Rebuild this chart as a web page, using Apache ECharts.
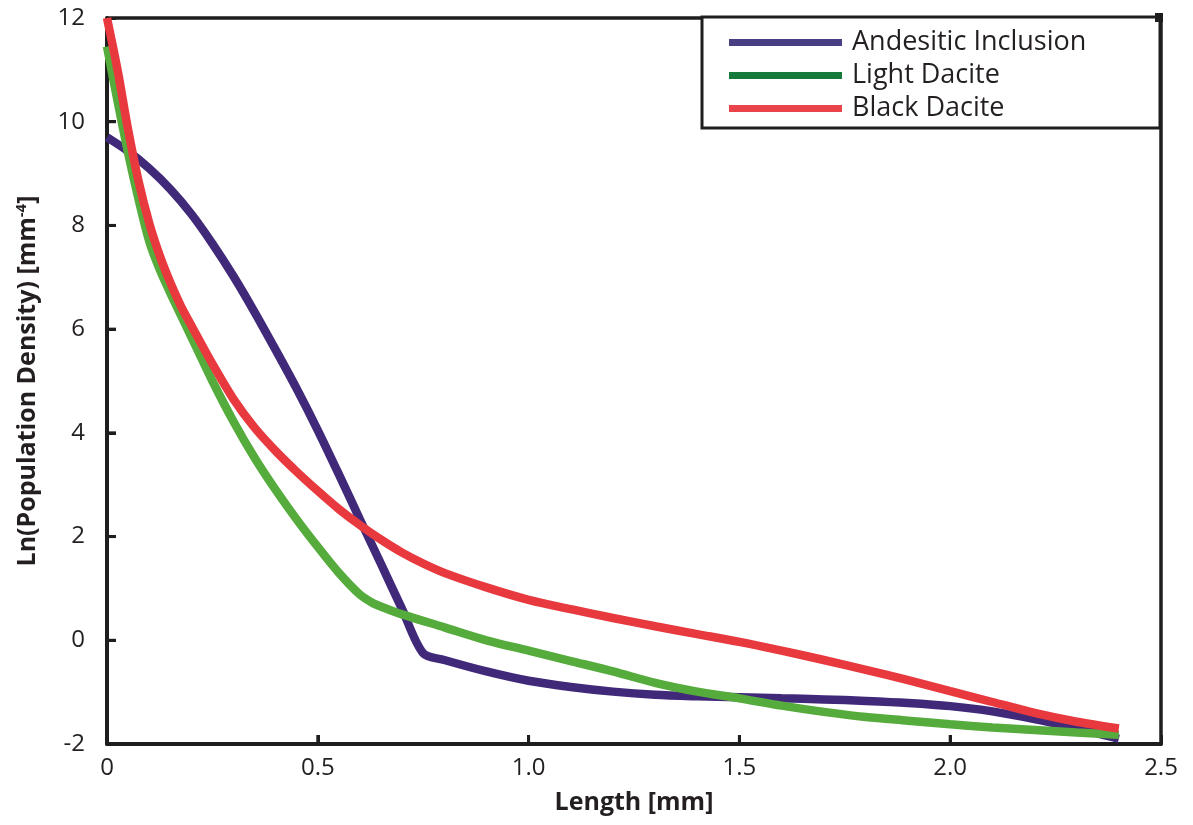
<!DOCTYPE html>
<html>
<head>
<meta charset="utf-8">
<script src="https://cdn.jsdelivr.net/npm/echarts@6/dist/echarts.min.js"></script>
<style>html,body{margin:0;padding:0;background:#fff;}#c{width:1193px;height:825px;}</style>
</head>
<body>
<div id="c"></div>
<script>
const seriesNames = ['Andesitic Inclusion', 'Light Dacite', 'Black Dacite'];

const andesiticX = [0, 0.05, 0.1, 0.15, 0.2, 0.25, 0.3, 0.35, 0.4, 0.45, 0.5, 0.55, 0.6, 0.65, 0.7, 0.75, 0.8, 0.9, 1.0, 1.1, 1.2, 1.3, 1.4, 1.5, 1.6, 1.7, 1.8, 1.9, 2.0, 2.1, 2.2, 2.3, 2.4];
const andesiticY = [9.7, 9.43, 9.1, 8.7, 8.22, 7.65, 7.02, 6.33, 5.6, 4.85, 4.05, 3.2, 2.33, 1.47, 0.6, -0.25, -0.38, -0.6, -0.78, -0.9, -0.99, -1.05, -1.08, -1.1, -1.12, -1.14, -1.17, -1.21, -1.27, -1.37, -1.52, -1.7, -1.9];

const lightX = [0, 0.025, 0.05, 0.075, 0.1, 0.125, 0.15, 0.2, 0.25, 0.3, 0.35, 0.4, 0.45, 0.5, 0.55, 0.6, 0.63, 0.65, 0.7, 0.8, 0.9, 1.0, 1.1, 1.2, 1.3, 1.4, 1.5, 1.6, 1.7, 1.8, 1.9, 2.0, 2.1, 2.2, 2.3, 2.4];
const lightY = [11.45, 10.4, 9.4, 8.5, 7.7, 7.15, 6.7, 5.85, 5.0, 4.22, 3.52, 2.9, 2.33, 1.8, 1.3, 0.88, 0.72, 0.65, 0.5, 0.25, 0.0, -0.2, -0.4, -0.6, -0.82, -0.99, -1.12, -1.26, -1.38, -1.48, -1.55, -1.62, -1.68, -1.73, -1.78, -1.82];

const blackX = [0, 0.025, 0.05, 0.075, 0.1, 0.125, 0.15, 0.175, 0.2, 0.25, 0.3, 0.35, 0.4, 0.45, 0.5, 0.55, 0.6, 0.65, 0.7, 0.75, 0.8, 0.9, 1.0, 1.1, 1.2, 1.3, 1.4, 1.5, 1.6, 1.7, 1.8, 1.9, 2.0, 2.1, 2.2, 2.3, 2.4];
const blackY = [12.0, 11.0, 9.85, 8.85, 8.05, 7.42, 6.9, 6.45, 6.07, 5.33, 4.65, 4.1, 3.65, 3.25, 2.88, 2.53, 2.22, 1.94, 1.69, 1.48, 1.3, 1.02, 0.78, 0.6, 0.43, 0.27, 0.12, -0.03, -0.2, -0.38, -0.57, -0.77, -0.98, -1.19, -1.4, -1.57, -1.7];

const xTicks = [0, 0.5, 1.0, 1.5, 2.0, 2.5];
const yTicks = [-2, 0, 2, 4, 6, 8, 10, 12];

const lineColors = ['#41297a', '#56ab3d', '#e8393f'];
const legendColors = ['#483e84', '#167a3c', '#e84449'];

function pairs(xs, ys) { return xs.map((x, i) => [x, ys[i]]); }

const chart = echarts.init(document.getElementById('c'), null, { renderer: 'canvas' });
const font = 'Open Sans';
const axisCol = '#1e1e1e';
const xMin = xTicks[0], xMax = xTicks[xTicks.length - 1];
const yMin = yTicks[0], yMax = yTicks[yTicks.length - 1];
const frameAxis = { show: true, onZero: false, lineStyle: { color: axisCol, width: 3.5 } };
const tickLen = 9;

const baseGraphic = [
  { id: 'legendBox', type: 'rect', z: 9, shape: { x: 702, y: 17, width: 458, height: 111 }, style: { fill: '#fff', stroke: axisCol, lineWidth: 3 } },
  { id: 'cornerMark', type: 'rect', z: 9, shape: { x: 1155, y: 13, width: 8, height: 9 }, style: { fill: axisCol } }
];

const option = {
  backgroundColor: '#ffffff',
  animation: false,
  grid: { left: 107, right: 32, top: 18, bottom: 81, show: false },
  xAxis: [{
    type: 'value', min: xMin, max: xMax, interval: 0.5, position: 'bottom',
    name: 'Length [mm]', nameLocation: 'middle', nameGap: 46,
    nameTextStyle: { fontFamily: font, fontSize: 25, fontWeight: 'bold', color: '#231f20' },
    axisLine: { show: true, onZero: false, lineStyle: { color: axisCol, width: 4 } },
    axisTick: { show: true, inside: true, length: tickLen, lineStyle: { color: axisCol, width: 3 } },
    splitLine: { show: false },
    axisLabel: { show: true, fontFamily: font, fontSize: 24, color: '#231f20', margin: 12,
      formatter: v => (xTicks.indexOf(v) >= 0 ? (v === 0 ? '0' : v.toFixed(1)) : '') }
  }, {
    type: 'value', min: xMin, max: xMax, interval: 0.5, position: 'top',
    axisLine: frameAxis, axisTick: { show: false }, axisLabel: { show: false }, splitLine: { show: false }
  }],
  yAxis: [{
    type: 'value', min: yMin, max: yMax, interval: 2, position: 'left',
    name: 'Ln(Population Density) [mm{sup|-4}]', nameLocation: 'middle', nameGap: 66, nameRotate: 90,
    nameTextStyle: { fontFamily: font, fontSize: 25, fontWeight: 'bold', color: '#231f20',
      rich: { sup: { fontFamily: font, fontSize: 15, fontWeight: 'bold', color: '#231f20', verticalAlign: 'top', padding: [0, 0, 12, 0] } } },
    axisLine: { show: true, onZero: false, lineStyle: { color: axisCol, width: 4 } },
    axisTick: { show: true, inside: true, length: tickLen, lineStyle: { color: axisCol, width: 3 } },
    splitLine: { show: false },
    axisLabel: { show: true, fontFamily: font, fontSize: 24, color: '#231f20', margin: 22,
      formatter: v => (yTicks.indexOf(v) >= 0 ? String(v) : '') }
  }, {
    type: 'value', min: yMin, max: yMax, interval: 2, position: 'right',
    axisLine: frameAxis, axisTick: { show: false }, axisLabel: { show: false }, splitLine: { show: false }
  }],
  legend: {
    left: 724, top: 24, orient: 'vertical', itemWidth: 113, itemHeight: 7, itemGap: 6, z: 10,
    icon: 'rect',
    textStyle: { fontFamily: font, fontSize: 27, lineHeight: 27, color: '#231f20', padding: [0, 0, 0, 5] },
    data: seriesNames.map((n, i) => ({ name: n, itemStyle: { color: legendColors[i] } }))
  },
  graphic: baseGraphic,
  series: [
    { name: seriesNames[0], type: 'line', data: pairs(andesiticX, andesiticY), smooth: 0.3, showSymbol: false, symbol: 'none', lineStyle: { width: 8.5, color: lineColors[0] }, itemStyle: { color: lineColors[0] }, z: 2 },
    { name: seriesNames[1], type: 'line', data: pairs(lightX, lightY), smooth: 0.3, showSymbol: false, symbol: 'none', lineStyle: { width: 8.5, color: lineColors[1] }, itemStyle: { color: lineColors[1] }, z: 3 },
    { name: seriesNames[2], type: 'line', data: pairs(blackX, blackY), smooth: 0.3, showSymbol: false, symbol: 'none', lineStyle: { width: 8.5, color: lineColors[2] }, itemStyle: { color: lineColors[2] }, z: 4 }
  ]
};
chart.setOption(option);

// Tick marks positioned through the chart's own scales
const tickGraphics = [];
xTicks.slice(1, -1).forEach((v, i) => {
  const p = chart.convertToPixel({ xAxisIndex: 0, yAxisIndex: 0 }, [v, yMin]);
  tickGraphics.push({ id: 'xt' + i, type: 'rect', z: 20, shape: { x: p[0] - 1.5, y: p[1] - tickLen, width: 3, height: tickLen }, style: { fill: axisCol } });
});
yTicks.slice(1, -1).forEach((v, i) => {
  const p = chart.convertToPixel({ xAxisIndex: 0, yAxisIndex: 0 }, [xMin, v]);
  tickGraphics.push({ id: 'yt' + i, type: 'rect', z: 20, shape: { x: p[0], y: p[1] - 1.5, width: tickLen, height: 3 }, style: { fill: axisCol } });
});
chart.setOption({ graphic: baseGraphic.concat(tickGraphics) });
</script>
</body>
</html>
